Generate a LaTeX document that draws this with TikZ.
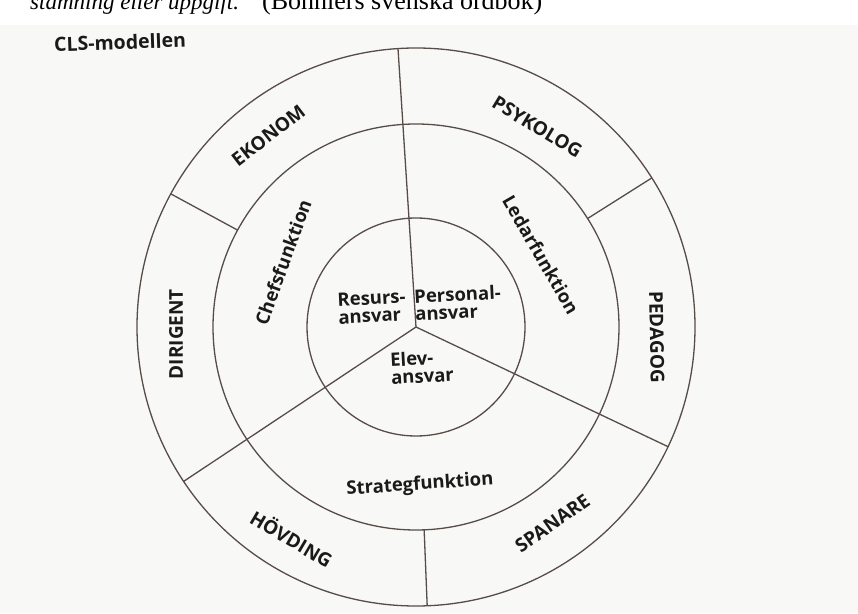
\documentclass[tikz,border=0pt]{standalone}
\usepackage{fontspec}
\setmainfont{Open Sans}
\newfontfamily\serifit{Liberation Serif}
\definecolor{linec}{HTML}{574C47}
\definecolor{textc}{HTML}{1A1A1A}
\definecolor{bgc}{HTML}{F8F8F6}
\begin{document}
\begin{tikzpicture}[x=1pt,y=1pt,
  ring/.style={draw=linec, line width=1.3pt},
  lbl/.style={font=\bfseries\fontsize{18.5}{17.5}\selectfont, text=textc, inner sep=0pt, align=left},
  big/.style={font=\bfseries\fontsize{19}{21}\selectfont, text=textc, inner sep=0pt}]
\useasboundingbox (0,0) rectangle (858,613);
\clip (0,0) rectangle (858,613);
\fill[bgc] (0,0) rectangle (858,588);
% top cut-off text
\node[anchor=base west, inner sep=0pt, font=\serifit\itshape\fontsize{23}{23}\selectfont] (quote) at (30,603) {stämning eller uppgift.”};
\node[anchor=base west, inner sep=0pt, font=\serifit\fontsize{26}{26}\selectfont] (src) at (262,603) {(Bonniers svenska ordbok)};
\node[big, font=\bfseries\fontsize{19.5}{21}\selectfont, rotate=2] (title) at (120,571) {CLS-modellen};
% geometry
\coordinate (c) at (416,286);
\draw[ring] (c) circle[radius=109];
\draw[ring] (c) circle[radius=203];
\draw[ring] (c) circle[radius=279];
% full radial lines
\coordinate (t1) at ([shift={(93.7:279)}]c);
\coordinate (t2) at ([shift={(213.6:279)}]c);
\coordinate (t3) at ([shift={(334.6:279)}]c);
\draw[ring] (c) -- (t1);
\draw[ring] (c) -- (t2);
\draw[ring] (c) -- (t3);
% outer-ring dividers
\coordinate (a1) at ([shift={(32.3:203)}]c);
\coordinate (b1) at ([shift={(32.3:279)}]c);
\coordinate (a2) at ([shift={(272.3:203)}]c);
\coordinate (b2) at ([shift={(272.3:279)}]c);
\coordinate (a3) at ([shift={(151.5:203)}]c);
\coordinate (b3) at ([shift={(151.5:279)}]c);
\draw[ring] (a1) -- (b1);
\draw[ring] (a2) -- (b2);
\draw[ring] (a3) -- (b3);
% inner labels
\node[lbl, rotate=3] (resurs) at (372,306) {Resurs-\\ansvar};
\node[lbl, rotate=3] (personal) at (458,310) {Personal-\\ansvar};
\node[lbl, rotate=3] (elev) at (422,246) {Elev-\\ansvar};
% function labels
\node[lbl, rotate=70] (chef) at (283,351) {Chefsfunktion};
\node[lbl, rotate=-60] (ledar) at (541,358) {Ledarfunktion};
\node[lbl, rotate=4] (strat) at (420,128) {Strategfunktion};
% outer labels
\node[big, rotate=37.6] (ekonom) at ([shift={(127.6:242)}]c) {EKONOM};
\node[big, rotate=-31.2] (psyk) at ([shift={(58.8:234)}]c) {PSYKOLOG};
\node[big, rotate=-89] (ped) at ([shift={(-2.4:241)}]c) {PEDAGOG};
\node[big, rotate=35.2] (span) at ([shift={(304.8:239)}]c) {SPANARE};
\node[big, rotate=-30.5] (hov) at ([shift={(239.6:245)}]c) {HÖVDING};
\node[big, rotate=90] (dir) at ([shift={(181.7:240)}]c) {DIRIGENT};
\end{tikzpicture}
\end{document}
